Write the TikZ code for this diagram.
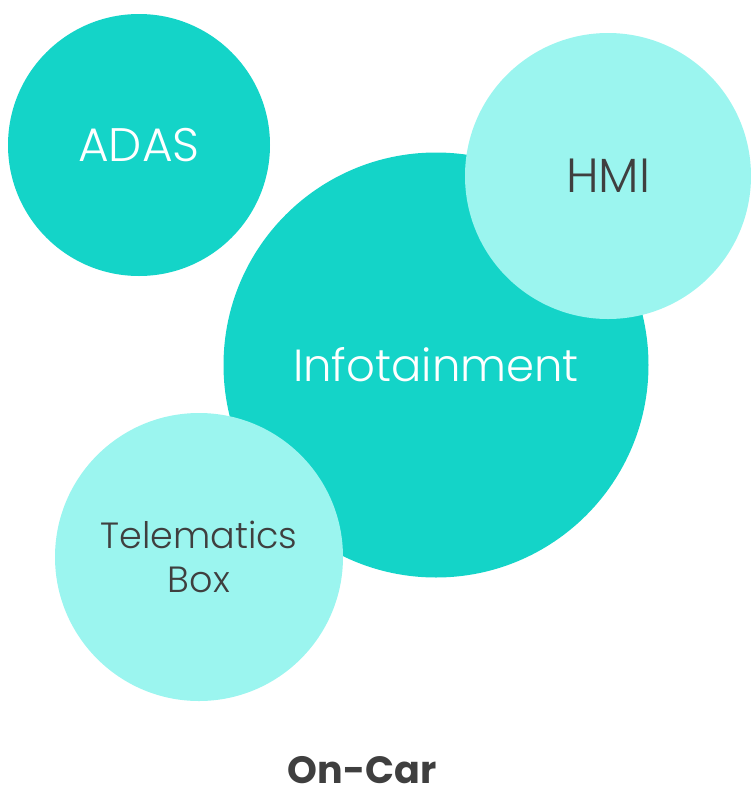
\documentclass[tikz,border=0pt]{standalone}
\usepackage{fontspec}
\setmainfont{Poppins}
\newfontfamily\lightfont{Poppins Light}
\definecolor{teal1}{HTML}{14D4C8}
\definecolor{aqua1}{HTML}{9BF5EF}
\definecolor{ink}{HTML}{3F3F3F}
\begin{document}
\begin{tikzpicture}[x=1pt,y=-1pt,
  bubble/.style={circle,inner sep=0pt,align=center},
  dark/.style={bubble,fill=teal1,text=white},
  light/.style={bubble,fill=aqua1,text=ink}]
\useasboundingbox (0,0) rectangle (751,788);
\node[dark,minimum size=262pt,font=\lightfont\fontsize{47}{56}\selectfont] (adas) at (139,145) {ADAS};
\node[dark,minimum size=425pt,font=\lightfont\fontsize{45}{54}\selectfont] (info) at (436,365) {Infotainment};
\node[light,minimum size=286pt,font=\lightfont\fontsize{48}{56}\selectfont] (hmi) at (608,176) {HMI};
\node[light,minimum size=288pt,font=\lightfont\fontsize{36.5}{44}\selectfont] (tel) at (199,557) {Telematics\\Box};
\node[inner sep=0pt,text depth=0pt,anchor=base,font=\fontsize{38}{42}\selectfont\bfseries,text=ink] (cap) at (362,783) {On-Car};
\end{tikzpicture}
\end{document}
